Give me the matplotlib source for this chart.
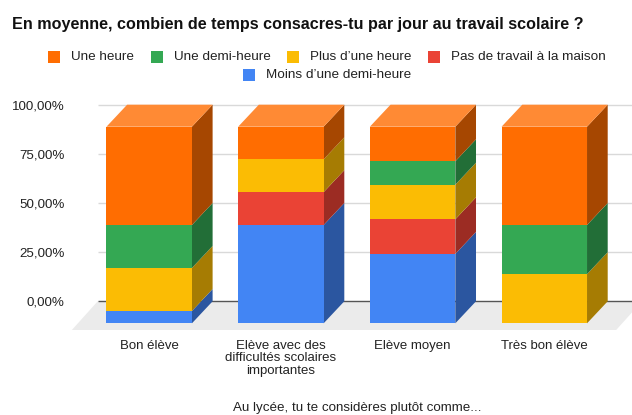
import matplotlib
matplotlib.use('Agg')
import matplotlib.pyplot as plt
from matplotlib.patches import Polygon, Rectangle

plt.rcParams['font.family'] = ['Liberation Sans', 'DejaVu Sans']

title = 'En moyenne, combien de temps consacres-tu par jour au travail scolaire ?'
xlabel = 'Au lycée, tu te considères plutôt comme...'
categories = ['Bon élève', 'Elève avec des\ndifficultés scolaires\nimportantes', 'Elève moyen', 'Très bon élève']
yticks = [0, 25, 50, 75, 100]
ytick_labels = ['0,00%', '25,00%', '50,00%', '75,00%', '100,00%']

# stack order, bottom to top
moins_demi_heure = [6.25, 50.0, 35.3, 0]
pas_de_travail = [0, 16.7, 17.6, 0]
plus_une_heure = [21.9, 16.7, 17.6, 25.0]
une_demi_heure = [21.85, 0, 11.9, 25.0]
une_heure = [50.0, 16.6, 17.6, 50.0]

series = [moins_demi_heure, pas_de_travail, plus_une_heure, une_demi_heure, une_heure]
front_colors = ['#4285f4', '#ea4335', '#fbbc04', '#34a853', '#ff6d01']
side_colors = ['#2b56a0', '#9c2c23', '#a67c03', '#226e37', '#a64701']
top_color = '#ff8a34'

W, H = 632, 415
depth_x = 0.157
depth_y = 11.2
bar_w = 0.649

fig = plt.figure(figsize=(W / 100, H / 100), dpi=100)
ax = fig.add_axes([97.7 / W, 1 - 330 / H, (W - 97.7) / W, (330 - 104.0) / H])
ax.set_xlim(-0.391, 3.666)
ax.set_ylim(-14.6, 100.35)

ax.hlines(yticks[1:], -0.391, 3.666, color='#d9d9d9', lw=1, zorder=1)
# floor runs past the right edge of the figure
ax.add_patch(Polygon([(-0.391, 0), (3.742, 0), (3.742 - depth_x * 1.25, -14.6), (-0.391 - depth_x * 1.25, -14.6)],
                     closed=True, fc='#ebebeb', ec='none', clip_on=False, zorder=1))
ax.hlines(0, -0.391, 3.666, color='#555555', lw=1, zorder=2)

for i in range(len(categories)):
    x0 = i - bar_w / 2
    x1 = i + bar_w / 2
    base = 0
    for values, fc, sc in zip(series, front_colors, side_colors):
        v = values[i]
        if v == 0:
            continue
        low = base - depth_y
        high = base + v - depth_y
        ax.add_patch(Polygon([(x1, low), (x1 + depth_x, low + depth_y), (x1 + depth_x, high + depth_y), (x1, high)],
                             closed=True, fc=sc, ec='none', zorder=3))
        ax.add_patch(Rectangle((x0, low), bar_w, v, fc=fc, ec='none', zorder=4))
        base += v
    top = base - depth_y
    ax.add_patch(Polygon([(x0, top), (x1, top), (x1 + depth_x, top + depth_y), (x0 + depth_x, top + depth_y)],
                         closed=True, fc=top_color, ec='none', zorder=4, clip_on=False))

ax.set_xticks(range(len(categories)))
ax.set_xticklabels(categories, fontsize=9.5, color='#222222', linespacing=1.08)
ax.set_yticks(yticks)
ax.set_yticklabels(ytick_labels, fontsize=9.6, color='#222222')
ax.tick_params(length=0)
ax.tick_params(axis='x', pad=7)
ax.tick_params(axis='y', pad=23.8)
for s in ax.spines.values():
    s.set_visible(False)
ax.patch.set_visible(False)

fig.text(12 / W, 1 - 24 / H, title, fontsize=11.6, fontweight='bold', color='#111111', va='center')
fig.text(357 / W, 1 - 407.5 / H, xlabel, fontsize=9.6, color='#222222', ha='center', va='center')

# legend placed by hand, two centred rows
legend_items = [('Une heure', '#ff6d01', 48, 57), ('Une demi-heure', '#34a853', 151, 57),
                ('Plus d\u2019une heure', '#fbbc04', 287, 57), ('Pas de travail à la maison', '#ea4335', 428, 57),
                ('Moins d\u2019une demi-heure', '#4285f4', 243, 75)]
for label, color, px, py in legend_items:
    fig.patches.append(Rectangle((px / W, 1 - (py + 6) / H), 12 / W, 12 / H, fc=color, ec='none',
                                 transform=fig.transFigure))
    fig.text((px + 23) / W, 1 - py / H, label, fontsize=9.7, color='#222222', va='center')

fig.savefig('out.png', dpi=100)
